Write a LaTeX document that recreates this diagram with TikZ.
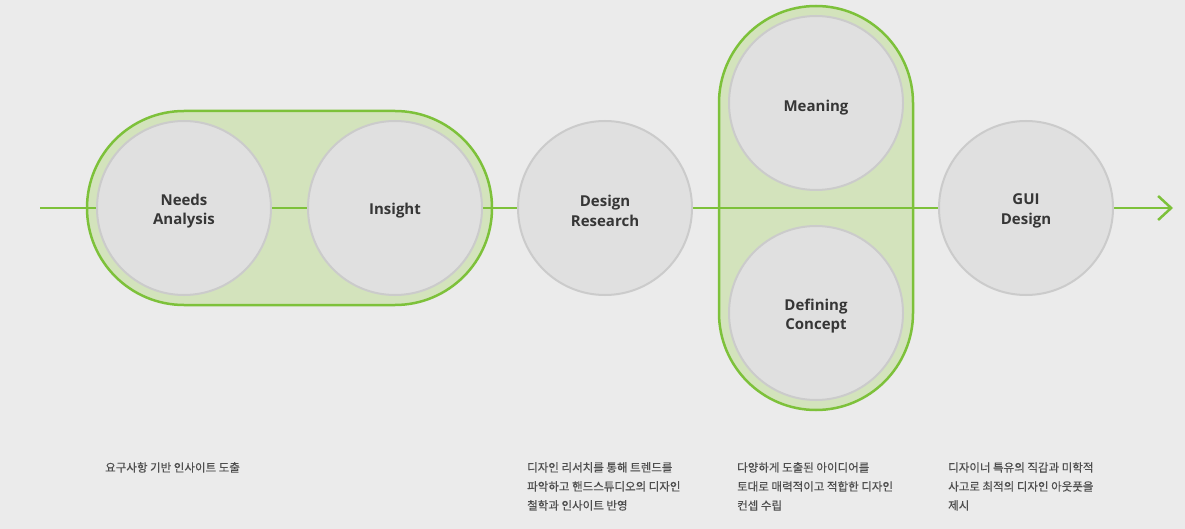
\documentclass[tikz,border=0pt]{standalone}
\usepackage{fontspec}
\setmainfont{Open Sans}
\newfontfamily\kr[FakeBold=0.4]{Noto Sans CJK KR}
\usetikzlibrary{arrows.meta}
\definecolor{bg}{HTML}{EBEBEB}
\definecolor{leaf}{HTML}{7DC13A}
\definecolor{pillfill}{HTML}{D3E3BC}
\definecolor{disc}{HTML}{E0E0E0}
\definecolor{discedge}{HTML}{CBCBCB}
\definecolor{ink}{HTML}{363636}
\definecolor{note}{HTML}{4E4E4E}
\tikzset{
  stage/.style={circle, minimum size=174pt, inner sep=0pt, fill=disc, draw=discedge,
    line width=2pt},
  stagetext/.style={inner sep=0pt, text=ink, font=\fontsize{15}{19.5}\selectfont\bfseries,
    align=center},
  pill/.style={fill=pillfill, draw=leaf, line width=2.5pt, rounded corners=97pt},
  flow/.style={draw=leaf, line width=2.5pt},
  caption/.style={anchor=north west, inner sep=0pt, text=note, align=left,
    font=\kr\fontsize{11.5}{19}\selectfont}
}
\begin{document}
\begin{tikzpicture}[x=1pt,y=-1pt]
  \fill[bg] (0,0) rectangle (1185,529);
  \useasboundingbox (0,0) rectangle (1185,529);

  % grouped stages
  \path[pill] (87,111) rectangle (492,305);
  \path[pill] (719,6) rectangle (913,410);

  % main flow line
  \coordinate (start) at (40,208);
  \coordinate (finish) at (1173,208);
  \draw[flow, -{Straight Barb[length=13pt,width=24pt,line width=2.5pt]}] (start) -- (finish);

  % stages
  \node[stage] (needs) at (184,208) {};
  \node[stage] (insight) at (395,208) {};
  \node[stage] (research) at (605,208) {};
  \node[stage] (meaning) at (816,103) {};
  \node[stage] (concept) at (816,313) {};
  \node[stage] (gui) at (1026,208) {};

  \node[stagetext] (needs-t) at ([yshift=-3pt]needs.center) {Needs\\Analysis};
  \node[stagetext] (insight-t) at ([yshift=-3pt]insight.center) {Insight};
  \node[stagetext] (research-t) at ([yshift=-3pt]research.center) {Design\\Research};
  \node[stagetext] (meaning-t) at ([yshift=-5pt]meaning.center) {Meaning};
  \node[stagetext] (concept-t) at ([yshift=-3pt]concept.center) {Defining\\Concept};
  \node[stagetext] (gui-t) at ([yshift=-3pt]gui.center) {GUI\\Design};

  % descriptions
  \node[caption] (c1) at (105,462) {요구사항 기반 인사이트 도출};
  \node[caption] (c2) at (527,462) {디자인 리서치를 통해 트렌드를\\파악하고 핸드스튜디오의 디자인\\철학과 인사이트 반영};
  \node[caption] (c3) at (737,462) {다양하게 도출된 아이디어를\\토대로 매력적이고 적합한 디자인\\컨셉 수립};
  \node[caption] (c4) at (948,462) {디자이너 특유의 직감과 미학적\\사고로 최적의 디자인 아웃풋을\\제시};
\end{tikzpicture}
\end{document}
